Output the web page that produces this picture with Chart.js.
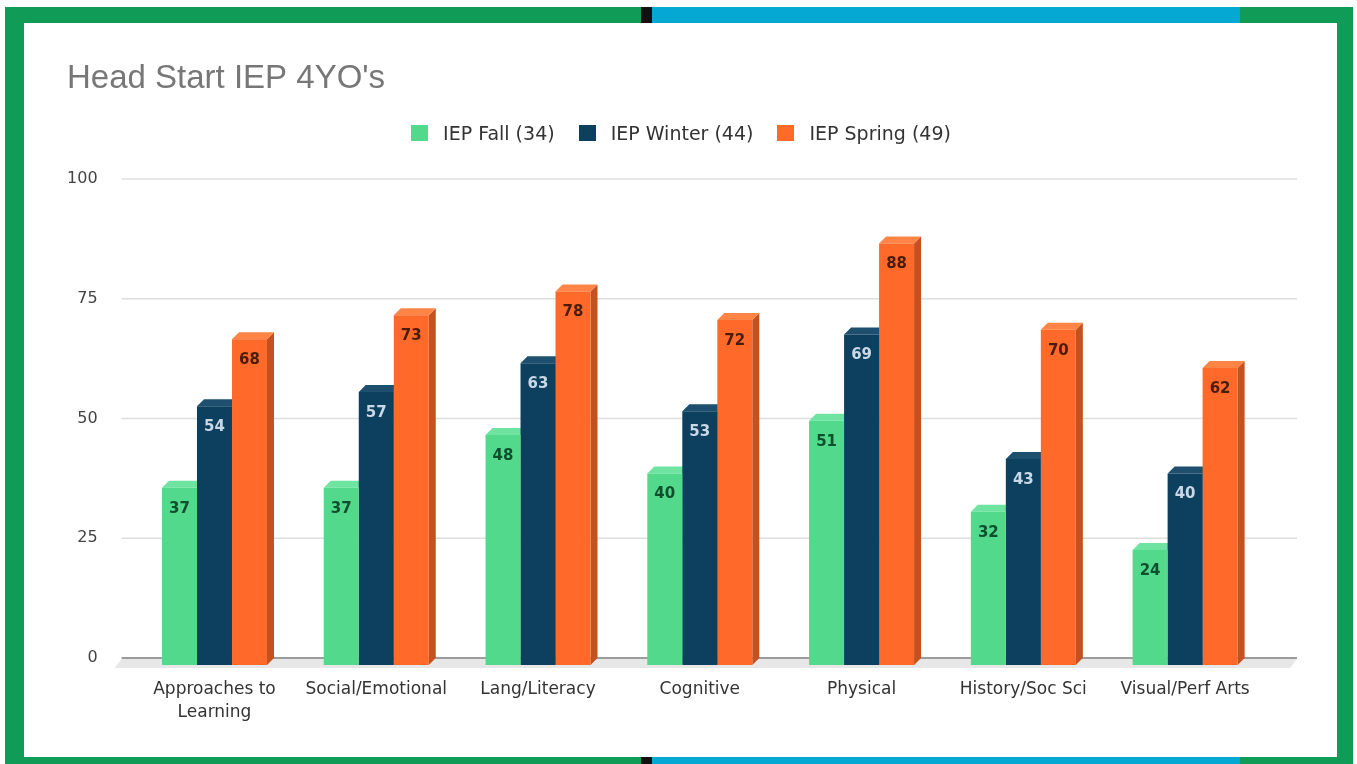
<!DOCTYPE html>
<html>
<head>
<meta charset="utf-8">
<title>Head Start IEP 4YO's</title>
<script src="https://cdn.jsdelivr.net/npm/chart.js@4"></script>
<style>
  html, body { margin:0; padding:0; background:#fff; }
  body { width:1357px; height:764px; position:relative; overflow:hidden; }
  .edge { position:absolute; background:#109c56; }
  .strip { background:linear-gradient(to right, #109c56 0 636px, #111 636px 647px, #05a8d2 647px 1235px, #109c56 1235px); }
  #wrap { position:absolute; left:0; top:0; width:1357px; height:764px; }
  #legend { position:absolute; top:124px; left:0; width:1362px; display:flex; justify-content:center;
            font-family:"DejaVu Sans", sans-serif; font-size:19px; color:#333; }
  #legend .item { display:flex; align-items:center; margin:0 12px; height:18px; }
  #legend .box { width:17px; height:16px; margin-right:15px; }
</style>
</head>
<body>
<div class="edge strip" style="left:5px; top:7px; width:1348px; height:16px;"></div>
<div class="edge strip" style="left:5px; top:757px; width:1348px; height:7px;"></div>
<div class="edge" style="left:5px; top:7px; width:19px; height:757px;"></div>
<div class="edge" style="left:1337px; top:7px; width:16px; height:757px;"></div>
<div id="wrap"><canvas id="chart"></canvas></div>
<div id="legend"></div>
<script>
// Data
const categories = [["Approaches to", "Learning"], "Social/Emotional", "Lang/Literacy", "Cognitive", "Physical", "History/Soc Sci", "Visual/Perf Arts"];
const seriesNames = ["IEP Fall (34)", "IEP Winter (44)", "IEP Spring (49)"];
const fallValues = [37, 37, 48, 40, 51, 32, 24];
const winterValues = [54, 57, 63, 53, 69, 43, 40];
const springValues = [68, 73, 78, 72, 88, 70, 62];
const yTicks = [0, 25, 50, 75, 100];

// Colours: front, top, side, value label
const frontColors = ["#52d98b", "#0d3f5e", "#ff6a2b"];
const topColors = ["#6ee4a0", "#1f4f6e", "#ff8446"];
const sideColors = ["#3cb873", "#072c44", "#c4511f"];
const labelColors = ["#0e4f2d", "#c9d8e6", "#4a1c0a"];

const DEPTH = 7;

// HTML legend
const legendEl = document.getElementById("legend");
seriesNames.forEach((name, i) => {
    const item = document.createElement("div");
    item.className = "item";
    item.innerHTML = `<span class="box" style="background:${frontColors[i]}"></span><span>${name}</span>`;
    legendEl.appendChild(item);
});

// 3D look: grid, floor and bar extrusions drawn from the bar elements
const bars3d = {
    id: "bars3d",
    beforeDatasetsDraw(chart) {
        const {ctx, chartArea, scales: {y}} = chart;
        const gl = chartArea.left - 12, gr = chartArea.right + 31;
        ctx.save();
        yTicks.forEach(v => {
            const py = y.getPixelForValue(v);
            ctx.strokeStyle = v === 0 ? "#9c9c9c" : "#dedede";
            ctx.lineWidth = v === 0 ? 2 : 1.5;
            ctx.beginPath();
            ctx.moveTo(gl, py);
            ctx.lineTo(gr, py);
            ctx.stroke();
        });
        const y0 = y.getPixelForValue(0) + 1;
        ctx.fillStyle = "#e7e7e7";
        ctx.beginPath();
        ctx.moveTo(gl, y0);
        ctx.lineTo(gr, y0);
        ctx.lineTo(gr - DEPTH, y0 + DEPTH + 2);
        ctx.lineTo(gl - DEPTH, y0 + DEPTH + 2);
        ctx.closePath();
        ctx.fill();

        ctx.translate(0, DEPTH);
        chart.data.datasets.forEach((ds, di) => {
            chart.getDatasetMeta(di).data.forEach(bar => {
                const {x, y: top, base, width} = bar.getProps(["x", "y", "base", "width"], true);
                const l = x - width / 2, r = x + width / 2;
                ctx.fillStyle = sideColors[di];
                ctx.beginPath();
                ctx.moveTo(r, top);
                ctx.lineTo(r + DEPTH, top - DEPTH);
                ctx.lineTo(r + DEPTH, base - DEPTH);
                ctx.lineTo(r, base);
                ctx.closePath();
                ctx.fill();
                ctx.fillStyle = topColors[di];
                ctx.beginPath();
                ctx.moveTo(l, top);
                ctx.lineTo(l + DEPTH, top - DEPTH);
                ctx.lineTo(r + DEPTH, top - DEPTH);
                ctx.lineTo(r, top);
                ctx.closePath();
                ctx.fill();
            });
        });
        ctx.restore();
        // front faces get drawn shifted forward too
        ctx.save();
        ctx.translate(0, DEPTH);
    },
    afterDatasetsDraw(chart) {
        const ctx = chart.ctx;
        ctx.restore();
        ctx.save();
        ctx.font = "bold 15px 'DejaVu Sans'";
        ctx.textAlign = "center";
        ctx.textBaseline = "middle";
        chart.data.datasets.forEach((ds, di) => {
            chart.getDatasetMeta(di).data.forEach((bar, i) => {
                const {x, y: top} = bar.getProps(["x", "y"], true);
                ctx.fillStyle = labelColors[di];
                ctx.fillText(ds.data[i], x, top + DEPTH + 21);
            });
        });
        ctx.restore();
    }
};

const allSeries = [fallValues, winterValues, springValues];

new Chart(document.getElementById("chart"), {
    type: "bar",
    data: {
        labels: categories,
        datasets: allSeries.map((vals, i) => ({
            label: seriesNames[i],
            data: vals,
            backgroundColor: frontColors[i],
            borderWidth: 0,
            categoryPercentage: 0.649,
            barPercentage: 1
        }))
    },
    options: {
        responsive: true,
        maintainAspectRatio: false,
        animation: false,
        layout: { padding: { left: 67, right: 91, top: 62, bottom: 41 } },
        plugins: {
            legend: { display: false },
            tooltip: { enabled: false },
            title: {
                display: true,
                text: "Head Start IEP 4YO's",
                align: "start",
                color: "#777",
                font: { family: "'Liberation Sans', Arial", size: 33, weight: "normal", lineHeight: 1 },
                padding: { top: 0, bottom: 84 }
            }
        },
        scales: {
            x: {
                grid: { display: false, drawTicks: false },
                border: { display: false },
                afterFit: scale => { scale.height = 65; },
                ticks: {
                    color: "#333",
                    font: { family: "'DejaVu Sans'", size: 17, lineHeight: 1.3 },
                    padding: 21,
                    maxRotation: 0,
                    autoSkip: false
                }
            },
            y: {
                min: 0,
                max: 100,
                grid: { display: false, drawTicks: false },
                border: { display: false },
                afterFit: scale => { scale.width = 66.6; },
                ticks: {
                    stepSize: 25,
                    color: "#444",
                    font: { family: "'DejaVu Sans'", size: 16 },
                    padding: 36
                }
            }
        }
    },
    plugins: [bars3d]
});
</script>
</body>
</html>
